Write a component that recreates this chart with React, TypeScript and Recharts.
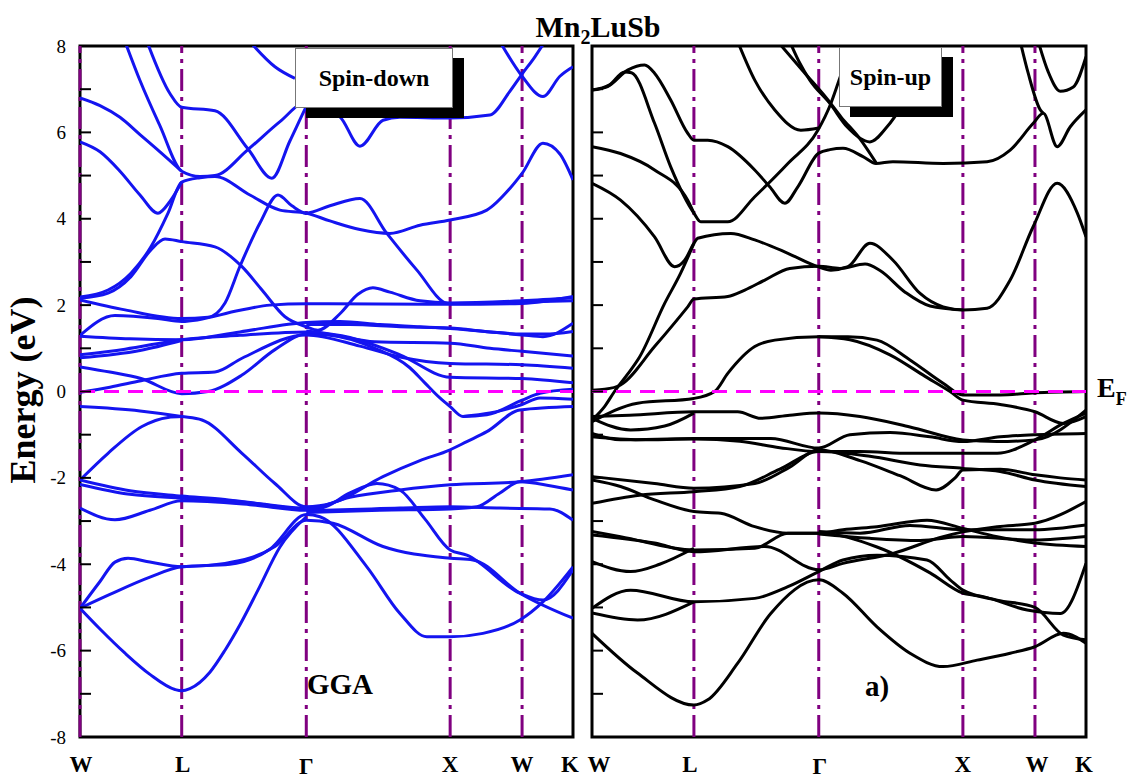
import React from 'react'
import { LineChart, Line, XAxis, YAxis, ReferenceLine, ReferenceArea } from 'recharts'

// high-symmetry points along W-L-Γ-X-W-K (units of 2π/a)
const W1 = 0
const L = 0.707
const G = 1.573
const X = 2.573
const W2 = 3.073
const K = 3.427

const kTicks = [W1, L, G, X, W2, K]
const kLabels = ['W', 'L', 'Γ', 'X', 'W', 'K']
const yTicks = [-8, -7, -6, -5, -4, -3, -2, -1, 0, 1, 2, 3, 4, 5, 6, 7, 8]

type Band = [number, number][]

// ---- spin-down bands (k, E in eV) ----
const dn01: Band = [[0, 6.8], [0.139, 6.62], [0.278, 6.35], [0.417, 5.95], [0.556, 5.55], [L, 5.1]]
const dn02: Band = [[0.313, 8.1], [0.417, 7.2], [0.556, 6.15], [L, 5.1], [0.834, 4.98], [0.938, 5.0], [1.167, 5.6], [1.39, 6.25], [G, 6.7], [1.668, 6.55], [1.807, 6.36], [1.946, 5.68], [2.106, 6.28], [2.224, 6.35], [X, 6.33], [2.849, 6.4], [2.988, 6.95], [W2, 7.35], [3.162, 7.75], [3.231, 8.1]]
const dn03: Band = [[0, 5.78], [0.139, 5.55], [0.278, 5.1], [0.417, 4.55], [0.542, 4.13], [0.625, 4.4], [L, 4.85]]
const dn04: Band = [[0, 2.19], [0.195, 2.35], [0.354, 2.74], [0.493, 3.35], [0.612, 4.13], [L, 4.85], [0.834, 4.95], [0.938, 4.98], [1.181, 4.55], [1.39, 4.2], [G, 4.13], [1.737, 3.95], [1.946, 3.75], [2.154, 3.66], [2.363, 3.85], [X, 3.97], [2.828, 4.2], [2.988, 4.7], [W2, 5.05], [3.218, 5.75], [3.336, 5.5], [K, 4.9]]
const dn05: Band = [[0.466, 8.1], [0.625, 6.9], [L, 6.58], [0.938, 6.5], [1.167, 5.62], [1.334, 4.94], [1.459, 5.8], [G, 6.6], [1.633, 7.0]]
const dn06: Band = [[1.181, 8.1], [1.355, 7.52], [1.494, 7.25]]
const dn07: Band = [[2.919, 8.1], [W2, 7.3], [3.218, 6.83], [3.336, 7.3], [K, 7.52]]
const dn08: Band = [[0, 2.12], [0.313, 1.89], [L, 1.69], [0.89, 1.72], [1.008, 2.05], [1.112, 2.9], [1.251, 3.9], [1.376, 4.55], [1.473, 4.3], [G, 4.13], [1.737, 4.3], [1.946, 4.47], [2.133, 3.66], [2.342, 2.81], [2.55, 2.04], [X, 2.03], [W2, 2.07], [K, 2.1]]
const dn09: Band = [[0, 2.16], [0.195, 2.28], [0.354, 2.66], [0.493, 3.28], [0.591, 3.53], [L, 3.47], [0.938, 3.35], [1.126, 2.89], [1.265, 2.35], [1.425, 1.73], [G, 1.5], [1.654, 1.42], [1.807, 1.8], [1.932, 2.25], [2.036, 2.4], [2.154, 2.3], [2.363, 2.1], [X, 2.05], [W2, 2.1], [K, 2.17]]
const dn10: Band = [[0, 1.3], [0.243, 1.76], [0.542, 1.69], [L, 1.62], [1.112, 1.88], [1.32, 2.0], [G, 2.03], [X, 2.02], [W2, 2.04], [K, 2.2]]
const dn11: Band = [[0, 1.28], [0.347, 1.22], [L, 1.2], [1.112, 1.38], [G, 1.6], [1.807, 1.62], [2.085, 1.55], [2.363, 1.5], [X, 1.46], [W2, 1.31], [3.218, 1.27], [K, 1.58]]
const dn12: Band = [[0, 0.85], [0.313, 0.98], [L, 1.2], [1.112, 1.3], [G, 1.38], [1.737, 1.32], [2.05, 1.15], [X, 1.12], [2.849, 1.0], [W2, 0.93], [K, 0.82]]
const dn13: Band = [[0, 0.78], [0.417, 0.95], [L, 1.18]]
const dn14: Band = [[G, 1.55], [1.876, 1.55], [2.224, 1.5], [X, 1.47], [2.849, 1.38], [W2, 1.33], [3.231, 1.33], [K, 1.39]]
const dn15: Band = [[0, 0.57], [0.208, 0.45], [0.424, 0.3], [L, -0.05], [0.89, 0.0], [1.126, 0.38], [1.355, 0.97], [G, 1.33], [1.723, 1.31], [2.05, 1.0], [2.293, 0.55], [2.397, 0.2], [2.502, -0.15], [X, -0.35], [2.662, -0.58], [2.828, -0.54], [W2, -0.2], [3.197, -0.04], [K, 0.05]]
const dn16: Band = [[0, -0.02], [0.208, 0.1], [0.424, 0.25], [L, 0.42], [0.938, 0.45], [1.126, 0.77], [G, 1.31], [1.946, 1.05], [2.224, 0.8], [X, 0.65], [W2, 0.62], [K, 0.54]]
const dn17: Band = [[G, 1.4], [1.876, 1.25], [2.224, 0.85], [X, 0.33], [W2, 0.3], [K, 0.2]]
const dn18: Band = [[2.662, -0.58], [2.849, -0.5], [W2, -0.3], [3.197, -0.15], [K, -0.18]]
const dn19: Band = [[0, -0.35], [0.417, -0.45], [L, -0.58], [0.848, -0.66], [1.126, -1.43], [1.355, -2.13], [G, -2.67], [1.758, -2.58], [2.106, -1.97], [2.363, -1.6], [X, -1.35], [2.689, -1.16], [2.828, -0.93], [3.058, -0.43], [K, -0.35]]
const dn20: Band = [[0, -2.05], [0.195, -1.43], [0.431, -0.81], [0.612, -0.6], [L, -0.58]]
const dn21: Band = [[0, -2.05], [0.347, -2.3], [L, -2.42], [1.008, -2.5], [1.251, -2.6], [G, -2.7], [1.668, -2.7], [1.876, -2.35], [2.064, -2.13], [2.224, -2.28], [2.397, -2.95], [X, -3.67], [2.689, -3.79], [3.058, -4.67], [3.218, -4.83], [K, -4.13]]
const dn22: Band = [[0, -2.15], [0.347, -2.38], [L, -2.47], [1.112, -2.55], [G, -2.72], [1.876, -2.45], [2.224, -2.28], [X, -2.16], [3.058, -2.09], [K, -1.93]]
const dn23: Band = [[0, -2.7], [0.243, -2.97], [0.486, -2.75], [L, -2.53], [1.181, -2.62], [G, -2.75], [2.224, -2.7], [X, -2.67], [2.919, -2.7], [3.266, -2.72], [K, -2.98]]
const dn24: Band = [[G, -2.8], [2.085, -2.75], [X, -2.72], [2.759, -2.67], [2.919, -2.35], [3.058, -2.09], [3.266, -2.18], [K, -2.28]]
const dn25: Band = [[0, -5.02], [0.139, -4.4], [0.243, -3.95], [0.334, -3.86], [0.486, -3.95], [L, -4.06], [1.008, -3.98], [1.355, -3.59], [G, -2.98], [1.758, -3.05], [2.106, -3.59], [X, -3.86], [2.731, -3.9], [3.058, -4.67], [K, -5.25]]
const dn26: Band = [[0, -5.02], [0.208, -4.7], [0.486, -4.3], [L, -4.06], [1.042, -4.0], [1.32, -3.65], [G, -2.85], [1.668, -2.9], [1.994, -4.06], [2.224, -5.14], [2.411, -5.68], [X, -5.68], [2.801, -5.6], [3.058, -5.29], [3.218, -4.87], [K, -4.06]]
const dn27: Band = [[0, -5.02], [0.139, -5.5], [0.313, -6.06], [0.486, -6.55], [0.66, -6.9], [L, -6.93], [0.764, -6.88], [0.903, -6.5], [1.008, -5.99], [1.112, -5.4], [1.237, -4.6], [1.39, -3.6], [G, -2.9]]

const spinDownBands = [dn01, dn02, dn03, dn04, dn05, dn06, dn07, dn08, dn09, dn10, dn11, dn12, dn13, dn14, dn15, dn16, dn17, dn18, dn19, dn20, dn21, dn22, dn23, dn24, dn25, dn26, dn27]

// ---- spin-up bands ----
const up01: Band = [[0, 6.98], [0.108, 7.06], [0.247, 7.44], [0.365, 7.56], [0.434, 7.37], [0.546, 6.75], [0.664, 5.98], [L, 5.82], [0.803, 5.82], [0.942, 5.67], [1.129, 5.13], [1.233, 4.74], [1.338, 4.36], [1.428, 4.74], [G, 5.52], [1.65, 5.6], [1.741, 5.63], [1.88, 5.44], [1.97, 5.28], [2.088, 5.32], [2.436, 5.28], [2.741, 5.32], [2.901, 5.59], [3.061, 6.21], [3.131, 6.44], [3.227, 5.67], [3.318, 6.13], [K, 6.52]]
const up02: Band = [[0, 6.98], [0.122, 7.1], [0.226, 7.4], [0.274, 7.38], [0.434, 6.21], [0.546, 5.2], [L, 4.13], [0.754, 3.93], [0.942, 3.93], [1.129, 4.51], [1.359, 5.28], [1.567, 6.05], [1.657, 6.67], [1.706, 7.13], [1.755, 7.6]]
const up03: Band = [[0, 5.67], [0.198, 5.51], [0.434, 5.13], [0.664, 4.43], [L, 4.13]]
const up04: Band = [[0, 4.82], [0.198, 4.43], [0.434, 3.58], [0.573, 2.89], [0.643, 3.04], [L, 3.43], [0.733, 3.55], [0.963, 3.66], [1.129, 3.51], [1.359, 3.2], [1.567, 2.89], [1.657, 2.81], [1.776, 2.89], [1.928, 3.43], [2.088, 3.04], [2.276, 2.27], [2.436, 1.96], [X, 1.89], [2.741, 1.93], [2.901, 2.58], [3.061, 3.82], [3.227, 4.82], [3.367, 4.13], [K, 3.58]]
const up05: Band = [[0, 0.03], [0.087, 0.05], [0.198, 0.15], [0.434, 1.04], [0.664, 1.96], [L, 2.14], [0.942, 2.2], [1.06, 2.35], [1.199, 2.58], [1.372, 2.85], [G, 2.9], [1.72, 2.85], [1.894, 2.95], [1.998, 2.8], [2.172, 2.3], [2.345, 1.98], [X, 1.89]]
const up06: Band = [[0, -0.66], [0.087, -0.35], [0.156, 0.0], [0.247, 0.4], [0.33, 0.8], [0.504, 2.04], [0.615, 2.74], [L, 3.43]]
const up07: Band = [[1.372, 8.1], [1.442, 7.6], [1.511, 7.21], [1.65, 6.67], [1.769, 6.13], [1.928, 5.78], [2.047, 6.13], [2.206, 6.9], [2.297, 7.37], [2.38, 7.8]]
const up08: Band = [[1.011, 8.1], [1.129, 7.21], [1.268, 6.52], [1.449, 6.05], [G, 6.1]]
const up09: Band = [[1.289, 8.1], [1.477, 7.37], [1.637, 6.75], [1.727, 6.36], [1.859, 5.85], [1.97, 5.3]]
const up10: Band = [[2.971, 8.1], [3.026, 7.37], [3.11, 6.52], [3.131, 6.44]]
const up11: Band = [[3.096, 8.1], [3.165, 7.4], [3.249, 6.95], [3.339, 7.05], [K, 7.75]]
const up12: Band = [[0, -0.7], [0.316, -0.27], [L, -0.16], [0.851, 0.0], [0.942, 0.42], [1.129, 1.04], [1.268, 1.19], [G, 1.27], [1.776, 1.27], [1.977, 1.19], [2.206, 0.73], [2.436, 0.19], [X, -0.08], [2.832, -0.08], [W2, -0.03], [K, 0.0]]
const up13: Band = [[G, 1.27], [1.789, 1.2], [2.067, 0.85], [2.311, 0.35], [2.484, 0.0], [X, -0.2], [2.832, -0.3], [W2, -0.47], [3.27, -0.74], [K, -0.58]]
const up14: Band = [[0, -0.58], [0.261, -0.55], [L, -0.47], [1.011, -0.47], [1.171, -0.62], [1.372, -0.55], [G, -0.5], [1.859, -0.58], [2.206, -0.82], [X, -1.12], [2.811, -1.16], [W2, -1.12], [K, -0.43]]
const up15: Band = [[0, -0.62], [0.268, -0.89], [0.504, -0.8], [L, -0.5]]
const up16: Band = [[0, -0.97], [0.198, -1.12], [L, -1.09], [1.24, -1.09], [G, -1.31], [1.789, -1.0], [2.067, -0.95], [2.345, -1.05], [X, -1.16], [2.832, -1.05], [W2, -1.0], [K, -0.97]]
const up17: Band = [[0, -1.05], [0.33, -1.12], [L, -1.1], [1.025, -1.15], [1.303, -1.3], [G, -1.39], [1.859, -1.39], [2.206, -1.43], [X, -1.43], [2.811, -1.43], [W2, -1.12], [3.27, -0.74], [K, -0.5]]
const up18: Band = [[0, -1.97], [0.434, -2.13], [L, -2.24], [1.129, -2.13], [1.372, -1.75], [G, -1.35], [1.859, -1.6], [2.137, -1.95], [2.387, -2.28], [2.519, -2.0], [X, -1.82], [2.832, -1.8], [W2, -1.93], [3.249, -2.0], [K, -2.05]]
const up19: Band = [[0, -2.59], [0.33, -2.4], [L, -2.32], [1.025, -2.2], [1.303, -1.8], [G, -1.39], [1.928, -1.5], [2.276, -1.7], [X, -1.78], [2.832, -1.85], [W2, -2.05], [K, -2.2]]
const up20: Band = [[0, -2.05], [0.198, -2.2], [0.434, -2.51], [L, -2.78], [0.893, -2.82], [1.129, -3.13], [1.359, -3.28], [G, -3.28], [1.741, -3.2], [1.977, -3.13], [2.324, -2.98], [X, -3.17], [2.811, -3.36], [W2, -3.51], [K, -3.59]]
const up21: Band = [[0, -3.24], [0.198, -3.36], [L, -3.67], [1.129, -3.63], [1.359, -3.28], [G, -3.28], [1.977, -3.6], [2.345, -4.2], [X, -4.67], [2.714, -4.75], [3.019, -5.06], [3.249, -5.14], [K, -3.98]]
const up22: Band = [[0, -3.32], [0.434, -3.51], [L, -3.71], [1.199, -3.59], [G, -4.13], [1.741, -3.98], [2.088, -3.75], [2.436, -3.36], [X, -3.25], [2.811, -3.13], [W2, -3.05], [K, -2.55]]
const up23: Band = [[0, -3.94], [0.268, -4.17], [0.469, -4.0], [L, -3.63]]
const up24: Band = [[0, -5.02], [0.268, -4.6], [L, -4.87], [1.129, -4.79], [1.359, -4.52], [G, -4.17], [1.741, -3.9], [1.977, -3.79], [2.324, -3.9], [2.484, -4.36], [X, -4.6], [2.811, -4.83], [W2, -5.0], [3.27, -5.64], [K, -5.75]]
const up25: Band = [[0, -5.13], [0.316, -5.29], [L, -4.87]]
const up26: Band = [[0, -5.6], [0.316, -6.52], [L, -7.26], [0.803, -7.14], [1.011, -6.29], [1.24, -5.14], [G, -4.36], [1.741, -4.67], [1.977, -5.45], [2.206, -6.06], [2.436, -6.37], [2.672, -6.22], [2.901, -6.06], [W2, -5.91], [3.27, -5.6], [K, -5.83]]
const up27: Band = [[G, -3.24], [1.859, -3.28], [2.206, -3.1], [X, -3.2], [2.832, -3.2], [W2, -3.2], [K, -3.09]]
const up28: Band = [[G, -3.3], [1.928, -3.4], [2.276, -3.45], [X, -3.36], [W2, -3.44], [K, -3.36]]

const spinUpBands = [up01, up02, up03, up04, up05, up06, up07, up08, up09, up10, up11, up12, up13, up14, up15, up16, up17, up18, up19, up20, up21, up22, up23, up24, up25, up26, up27, up28]

const SERIF = '"Liberation Serif", "Times New Roman", serif'
const TICK_GAP = 14

const toPoints = (b: Band) => b.map(([k, e]) => ({ k, e }))

function EnergyTick(props: any) {
  const { x, y, payload, showLabel } = props
  const axisX = x + TICK_GAP
  const v = payload.value
  return (
    <g>
      {v > -8 && v < 8 && (
        <line x1={axisX} x2={axisX + 11} y1={y} y2={y} stroke="#000" strokeWidth={2} />
      )}
      {showLabel && v % 2 === 0 && (
        <text x={x} y={y} textAnchor="end" dominantBaseline="central" fontFamily={SERIF} fontSize={19} fill="#000">
          {v}
        </text>
      )}
    </g>
  )
}

function KTick(props: any) {
  const { x, y, payload, shifts } = props
  const i = kTicks.indexOf(payload.value)
  const label = kLabels[i]
  const drop = label === 'Γ' ? 2 : 0
  return (
    <text x={x + (shifts[i] || 0)} y={y + 33 + drop} textAnchor="middle" fontFamily={SERIF} fontWeight="bold" fontSize={23} fill="#000">
      {label}
    </text>
  )
}

interface PanelProps {
  bands: Band[]
  color: string
  width: number
  yAxisWidth: number
  rightMargin: number
  showLabels: boolean
  symLines: number[]
  shifts: number[]
}

function BandPanel({ bands, color, width, yAxisWidth, rightMargin, showLabels, symLines, shifts }: PanelProps) {
  return (
    <LineChart width={width} height={778} margin={{ top: 46, right: rightMargin, bottom: 0, left: 0 }}>
      <XAxis
        dataKey="k"
        type="number"
        domain={[0, K]}
        ticks={kTicks}
        interval={0}
        allowDataOverflow
        height={41}
        axisLine={false}
        tickLine={false}
        tickSize={0}
        tick={(p: any) => <KTick {...p} shifts={shifts} />}
      />
      <YAxis
        type="number"
        domain={[-8, 8]}
        ticks={yTicks}
        interval={0}
        allowDataOverflow
        width={yAxisWidth}
        axisLine={false}
        tickLine={false}
        tickSize={0}
        tickMargin={TICK_GAP}
        tick={(p: any) => <EnergyTick {...p} showLabel={showLabels} />}
      />
      {symLines.map((k) => (
        <ReferenceLine key={k} x={k} stroke="#800080" strokeWidth={3} strokeDasharray="22 6 4 6" />
      ))}
      {bands.map((b, i) => (
        <Line
          key={i}
          data={toPoints(b)}
          dataKey="e"
          type="monotone"
          stroke={color}
          strokeWidth={3}
          dot={false}
          activeDot={false}
          isAnimationActive={false}
        />
      ))}
      <ReferenceLine y={0} stroke="#ff00ff" strokeWidth={3} strokeDasharray="15 9" />
      <ReferenceArea x1={0} x2={K} y1={-8} y2={8} fill="none" stroke="#000" strokeWidth={3} />
    </LineChart>
  )
}

const abs = (left: number, top: number): React.CSSProperties => ({ position: 'absolute', left, top })

function SpinBox({ left, top, width, text }: { left: number; top: number; width: number; text: string }) {
  return (
    <>
      <div style={{ ...abs(left + 11, top + 10), width, height: 60, background: '#000' }} />
      <div
        style={{
          ...abs(left, top),
          width: width - 2,
          height: 58,
          background: '#fff',
          border: '1px solid #777',
          display: 'flex',
          alignItems: 'center',
          justifyContent: 'center',
          fontFamily: SERIF,
          fontWeight: 'bold',
          fontSize: 24,
          whiteSpace: 'nowrap',
        }}
      >
        {text}
      </div>
    </>
  )
}

export default function App() {
  return (
    <div style={{ position: 'absolute', left: 0, top: 0, width: 1133, height: 778, background: '#fff' }}>
      <div style={abs(0, 0)}>
        <BandPanel
          bands={spinDownBands}
          color="#1414f0"
          width={590}
          yAxisWidth={80}
          rightMargin={17}
          showLabels
          symLines={[W1, L, G, X, W2]}
          shifts={[1, 1, 0, 0, 0, -3]}
        />
      </div>
      <div style={abs(582, 0)}>
        <BandPanel
          bands={spinUpBands}
          color="#000"
          width={520}
          yAxisWidth={10}
          rightMargin={16}
          showLabels={false}
          symLines={[L, G, X, W2]}
          shifts={[7, -4, 1, 0, 2, -2]}
        />
      </div>

      <SpinBox left={295} top={48} width={158} text="Spin-down" />
      <SpinBox left={839} top={47} width={103} text="Spin-up" />

      <div style={{ ...abs(598, 10), transform: 'translateX(-50%)', fontFamily: SERIF, fontWeight: 'bold', fontSize: 30, whiteSpace: 'nowrap' }}>
        Mn<sub style={{ fontSize: 20, verticalAlign: '-7px' }}>2</sub>LuSb
      </div>
      <div
        style={{
          ...abs(23, 390),
          transform: 'translate(-50%, -50%) rotate(-90deg)',
          fontFamily: SERIF,
          fontWeight: 'bold',
          fontSize: 36,
          whiteSpace: 'nowrap',
        }}
      >
        Energy (eV)
      </div>
      <div style={{ ...abs(307, 668), fontFamily: SERIF, fontWeight: 'bold', fontSize: 29 }}>GGA</div>
      <div style={{ ...abs(865, 670), fontFamily: SERIF, fontWeight: 'bold', fontSize: 29 }}>a)</div>
      <div style={{ ...abs(1097, 372), fontFamily: SERIF, fontWeight: 'bold', fontSize: 28, whiteSpace: 'nowrap' }}>
        E<sub style={{ fontSize: 18, verticalAlign: '-8px' }}>F</sub>
      </div>
    </div>
  )
}
